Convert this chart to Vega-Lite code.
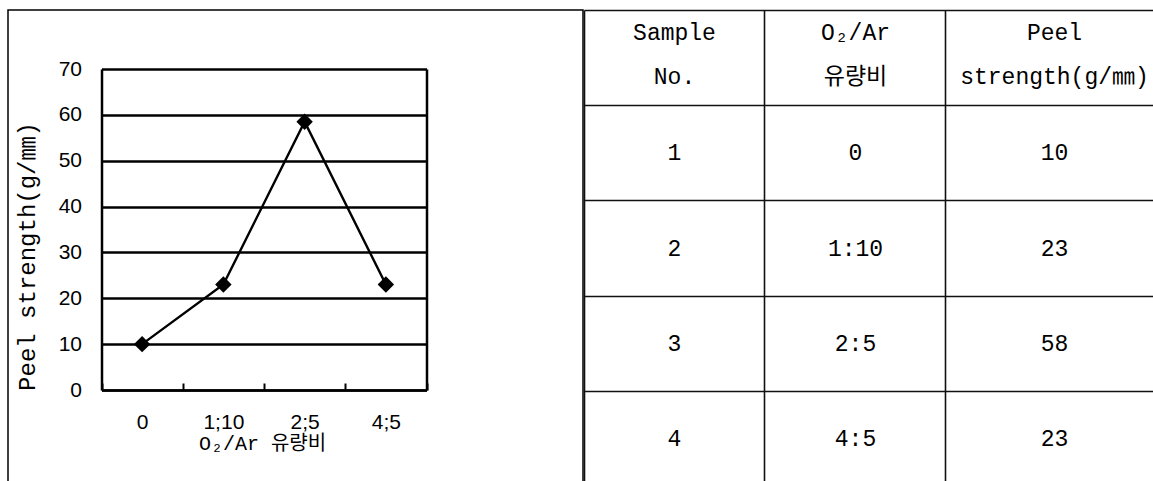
{
  "$schema": "https://vega.github.io/schema/vega-lite/v6.json",
  "background": "white",
  "padding": {"left": 7, "top": 9, "right": 0, "bottom": 0},
  "spacing": 0,
  "datasets": {
    "peel": [
      {"sample": 1, "ratio": "0", "strength": 10},
      {"sample": 2, "ratio": "1;10", "strength": 23},
      {"sample": 3, "ratio": "2;5", "strength": 58.5},
      {"sample": 4, "ratio": "4;5", "strength": 23}
    ],
    "table": [
      {"row": "h", "col": "c1", "text": "Sample\nNo."},
      {"row": "h", "col": "c2", "text": "O₂/Ar\n유량비"},
      {"row": "h", "col": "c3", "text": "Peel\nstrength(g/㎜)"},
      {"row": "r1", "col": "c1", "text": "1"},
      {"row": "r1", "col": "c2", "text": "0"},
      {"row": "r1", "col": "c3", "text": "10"},
      {"row": "r2", "col": "c1", "text": "2"},
      {"row": "r2", "col": "c2", "text": "1:10"},
      {"row": "r2", "col": "c3", "text": "23"},
      {"row": "r3", "col": "c1", "text": "3"},
      {"row": "r3", "col": "c2", "text": "2:5"},
      {"row": "r3", "col": "c3", "text": "58"},
      {"row": "r4", "col": "c1", "text": "4"},
      {"row": "r4", "col": "c2", "text": "4:5"},
      {"row": "r4", "col": "c3", "text": "23"}
    ]
  },
  "hconcat": [
    {
      "width": 575,
      "height": 477,
      "view": {"stroke": "black", "strokeWidth": 1.5},
      "data": {"name": "peel"},
      "resolve": {"axis": {"y": "independent"}},
      "encoding": {
        "x": {
          "field": "ratio",
          "type": "nominal",
          "sort": null,
          "scale": {"type": "band", "domain": ["0", "1;10", "2;5", "4;5"], "range": [93.5, 418.5], "paddingInner": 0, "paddingOuter": 0},
          "axis": {
            "orient": "bottom",
            "offset": -97,
            "title": "O₂/Ar 유량비",
            "labelAngle": 0,
            "tickBand": "extent",
            "tickSize": -7,
            "tickWidth": 2,
            "tickColor": "black",
            "domainColor": "black",
            "domainWidth": 2.5,
            "labelPadding": 28,
            "labelFont": "Liberation Sans",
            "labelFontSize": 21,
            "labelColor": "black",
            "grid": false,
            "titleFont": "Liberation Mono, Noto Sans CJK KR",
            "titleFontSize": 20,
            "titleFontWeight": "normal",
            "titleColor": "black",
            "titleBaseline": "alphabetic",
            "titleY": 59,
            "titleX": 254
          }
        }
      },
      "layer": [
        {
          "mark": {"type": "line", "color": "black", "strokeWidth": 2.4},
          "encoding": {
            "y": {
              "field": "strength",
              "type": "quantitative",
              "scale": {"domain": [0, 70], "range": [380, 59], "nice": false},
              "axis": {
                "orient": "left",
                "offset": -93.5,
                "values": [0, 10, 20, 30, 40, 50, 60, 70],
                "ticks": false,
                "labelPadding": 20,
                "labelFont": "Liberation Sans",
                "labelFontSize": 21,
                "labelColor": "black",
                "domain": true,
                "domainColor": "black",
                "domainWidth": 2.5,
                "grid": true,
                "gridColor": "black",
                "gridWidth": 2.5,
                "title": "Peel strength(g/㎜)",
                "titleFont": "Liberation Mono, Noto Sans CJK KR",
                "titleFontSize": 24,
                "titleFontWeight": "normal",
                "titleColor": "black",
                "titleAngle": 270,
                "titleBaseline": "alphabetic",
                "titleX": -67,
                "titleY": 246
              }
            }
          }
        },
        {
          "mark": {"type": "point", "shape": "diamond", "filled": true, "color": "black", "size": 270, "opacity": 1},
          "encoding": {
            "y": {
              "field": "strength",
              "type": "quantitative",
              "scale": {"domain": [0, 70], "range": [380, 59], "nice": false},
              "axis": {
                "orient": "right",
                "offset": -156.5,
                "labels": false,
                "ticks": false,
                "grid": false,
                "title": null,
                "domain": true,
                "domainColor": "black",
                "domainWidth": 2.5
              }
            }
          }
        }
      ]
    },
    {
      "width": 570,
      "height": 477,
      "view": {"stroke": null},
      "data": {"name": "table"},
      "encoding": {
        "x": {
          "field": "col",
          "type": "nominal",
          "scale": {"type": "band", "domain": ["c1", "c2", "c3"], "paddingInner": 0, "paddingOuter": 0.0746, "align": 0},
          "axis": {"orient": "top", "labels": false, "ticks": false, "domain": false, "title": null, "grid": true, "bandPosition": 0, "gridColor": "#111111", "gridWidth": 1.6}
        },
        "y": {
          "field": "row",
          "type": "nominal",
          "scale": {"type": "band", "domain": ["h", "r1", "r2", "r3", "r4"], "paddingInner": 0, "paddingOuter": 0},
          "axis": {"orient": "left", "labels": false, "ticks": false, "domain": false, "title": null, "grid": true, "bandPosition": 0, "gridColor": "#111111", "gridWidth": 1.6}
        },
        "text": {"field": "text"}
      },
      "layer": [
        {
          "transform": [{"filter": "datum.col !== 'c3' && datum.row !== 'h'"}],
          "mark": {"type": "text", "font": "Liberation Mono, Noto Sans CJK KR", "fontSize": 23, "color": "black", "baseline": "middle", "align": "center"}
        },
        {
          "transform": [{"filter": "datum.col === 'c3' && datum.row !== 'h'"}],
          "mark": {"type": "text", "font": "Liberation Mono, Noto Sans CJK KR", "fontSize": 23, "color": "black", "baseline": "middle", "align": "center", "dx": 18}
        },
        {
          "transform": [{"filter": "datum.col !== 'c3' && datum.row === 'h'"}],
          "mark": {"type": "text", "font": "Liberation Mono, Noto Sans CJK KR", "fontSize": 23, "color": "black", "lineBreak": "\n", "lineHeight": 44, "baseline": "middle", "align": "center", "dy": -25}
        },
        {
          "transform": [{"filter": "datum.col === 'c3' && datum.row === 'h'"}],
          "mark": {"type": "text", "font": "Liberation Mono, Noto Sans CJK KR", "fontSize": 23, "color": "black", "lineBreak": "\n", "lineHeight": 44, "baseline": "middle", "align": "center", "dx": 18, "dy": -25}
        }
      ]
    }
  ]
}
